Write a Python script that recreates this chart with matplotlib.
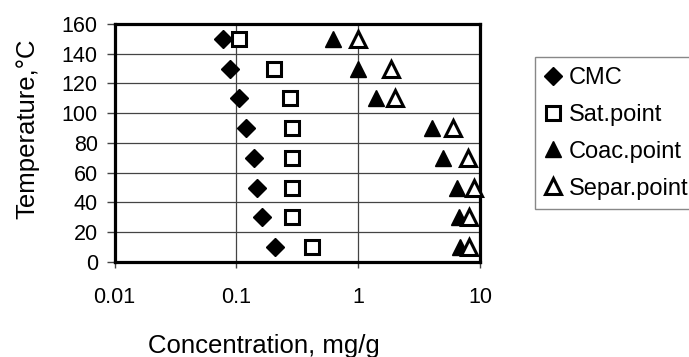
import matplotlib
matplotlib.use("Agg")
import matplotlib.pyplot as plt

plt.rcParams["font.family"] = ["Liberation Sans", "DejaVu Sans"]

# Temperature levels (y) and concentrations (x, mg/g)
temperature = [150, 130, 110, 90, 70, 50, 30, 10]
cmc = [0.078, 0.089, 0.105, 0.12, 0.14, 0.149, 0.161, 0.208]
sat_point = [0.106, 0.205, 0.277, 0.287, 0.287, 0.287, 0.287, 0.417]
coac_point = [0.62, 1.0, 1.4, 4.0, 5.0, 6.5, 6.7, 6.9]
separ_point = [1.0, 1.85, 2.0, 6.0, 8.0, 8.9, 8.1, 8.1]

x_ticks = [0.01, 0.1, 1, 10]
x_tick_labels = ["0.01", "0.1", "1", "10"]
y_ticks = [0, 20, 40, 60, 80, 100, 120, 140, 160]

fig = plt.figure(figsize=(6.89, 3.57), dpi=100)
ax = fig.add_axes([0.1662, 0.2661, 0.5305, 0.6667])

ax.plot(cmc, temperature, linestyle="none", marker="D", markersize=8.8,
        color="black", clip_on=False, label="CMC", zorder=3)
ax.plot(sat_point, temperature, linestyle="none", marker="s", markersize=9.8,
        markerfacecolor="white", markeredgecolor="black", markeredgewidth=2.2,
        clip_on=False, label="Sat.point", zorder=3)
ax.plot(coac_point, temperature, linestyle="none", marker="^", markersize=12,
        color="black", clip_on=False, label="Coac.point", zorder=3)
ax.plot(separ_point, temperature, linestyle="none", marker="^", markersize=11.2,
        markerfacecolor="white", markeredgecolor="black", markeredgewidth=2.2,
        clip_on=False, label="Separ.point", zorder=3)

ax.set_xscale("log")
ax.set_xlim(0.01, 10)
ax.set_ylim(0, 160)
ax.set_xticks(x_ticks, x_tick_labels)
ax.minorticks_off()
ax.set_yticks(y_ticks)

ax.grid(True, color="#444444", linewidth=0.9)
ax.set_axisbelow(True)
for s in ax.spines.values():
    s.set_linewidth(2.3)
    s.set_color("black")

ax.tick_params(axis="x", direction="out", length=4, width=1, color="#444444",
               labelsize=15.5, pad=14)
ax.tick_params(axis="y", direction="out", length=6, width=1, color="#444444",
               labelsize=15.5, pad=6)

fig.text(27 / 689, 1 - 129 / 357, "Temperature,°C", rotation=90,
         ha="center", va="center", fontsize=18.5)
fig.text(264 / 689, 1 - 353 / 357, "Concentration, mg/g",
         ha="center", va="baseline", fontsize=18.5)

leg = fig.legend(loc="upper left", bbox_to_anchor=(535 / 689, 1 - 57 / 357),
                 fontsize=17, frameon=True, fancybox=False, framealpha=1,
                 edgecolor="#888888", handlelength=0.7, handletextpad=0.3,
                 labelspacing=0.63, borderpad=0.42, borderaxespad=0)
leg.get_frame().set_linewidth(1)

fig.savefig("out.png", dpi=100)
